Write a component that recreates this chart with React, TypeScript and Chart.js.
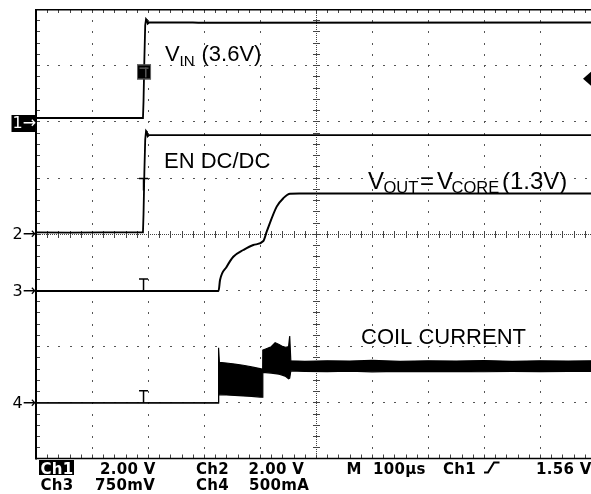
import React, { useEffect, useRef } from "react";
import { Chart, registerables } from "chart.js";

Chart.register(...registerables);

// ---------- scope settings ----------
const TIME_PER_DIV = 100; // µs / div
const X_MAX = 991; // visible part of the 10-div screen (right edge cropped)
const Y_DIVS = 4;

const CH1_SCALE = 2.0; // V/div
const CH2_SCALE = 2.0; // V/div
const CH3_SCALE = 0.75; // V/div
const CH4_SCALE = 0.5; // A/div
const CH1_OFFSET = 2.06; // divisions from centre
const CH2_OFFSET = 0.0;
const CH3_OFFSET = -1.02;
const CH4_OFFSET = -3.01;

const TRIGGER_TIME = 192; // µs from left edge

// ---------- data (time in µs from left graticule edge) ----------
const ch1Time = [0, 191, 192, 193.5, 195, 196.5, 198, 199.5, 202, 280, 290, 991];
const ch1Volts = [0, 0, 0.6, 2.1, 3.3, 3.52, 3.48, 3.36, 3.4, 3.4, 3.39, 3.4];

const ch2Time = [0, 60, 120, 191, 192, 193.5, 195, 196.5, 198, 199.5, 202, 991];
const ch2Volts = [0.05, 0.04, 0.05, 0.05, 0.7, 2.2, 3.35, 3.66, 3.62, 3.47, 3.51, 3.51];

const ch3Time = [0, 326, 328.6, 340.5, 352.3, 370.2, 388, 405.9, 411.9, 429.8, 441.6, 453.6, 470, 991];
const ch3Volts = [0, 0, 0.147, 0.325, 0.458, 0.548, 0.615, 0.668, 0.792, 1.127, 1.24, 1.3, 1.302, 1.302];

const ch4Time = [0, 325.5, 326, 327.5, 340, 355, 370, 385, 400, 404, 405, 410, 420, 427, 434, 441, 446, 451, 453, 455, 480, 520, 560, 600, 650, 700, 750, 800, 850, 900, 950, 991];
const ch4Top = [0, 0, 0.49, 0.36, 0.355, 0.345, 0.335, 0.32, 0.305, 0.3, 0.47, 0.48, 0.5, 0.535, 0.52, 0.5, 0.495, 0.5, 0.595, 0.375, 0.37, 0.375, 0.372, 0.378, 0.37, 0.375, 0.372, 0.376, 0.37, 0.374, 0.372, 0.375];
const ch4Bottom = [0, 0, 0.075, 0.072, 0.07, 0.066, 0.062, 0.058, 0.052, 0.05, 0.27, 0.27, 0.265, 0.26, 0.255, 0.245, 0.235, 0.215, 0.22, 0.285, 0.28, 0.278, 0.282, 0.276, 0.28, 0.278, 0.281, 0.277, 0.28, 0.278, 0.281, 0.279];

// ---------- texts ----------
const CHANNEL_MARKERS = ["1", "2", "3", "4"];
const STATUS_LINE_1 = ["Ch1", "2.00 V", "Ch2", "2.00 V", "M", "100µs", "Ch1", "1.56 V"];
const STATUS_LINE_2 = ["Ch3", "750mV", "Ch4", "500mA"];

const toDiv = (times: number[], vals: number[], scale: number, offset: number) =>
  times.map((t, i) => ({ x: t, y: offset + vals[i] / scale }));

const graticule = {
  id: "graticule",
  beforeDatasetsDraw(chart: any) {
    const { ctx, chartArea: a, scales } = chart;
    const xs = scales.x;
    const ys = scales.y;
    const xDiv = xs.getPixelForValue(TIME_PER_DIV) - xs.getPixelForValue(0);
    const yDiv = ys.getPixelForValue(0) - ys.getPixelForValue(1);
    const mx = xDiv / 5;
    const my = yDiv / 5;
    const cx = Math.round(xs.getPixelForValue(5 * TIME_PER_DIV));
    const cy = Math.round(ys.getPixelForValue(0));
    ctx.save();
    ctx.fillStyle = "#555";
    for (let k = 1; k < 10; k++) {
      if (k === 5) continue;
      const px = Math.round(xs.getPixelForValue(k * TIME_PER_DIV));
      if (px > a.right) continue;
      for (let j = 1; j < 40; j++) {
        const py = Math.round(a.top + j * my);
        ctx.fillRect(px, py, 1, 2);
      }
    }
    for (let k = -Y_DIVS + 1; k < Y_DIVS; k++) {
      if (k === 0) continue;
      const py = Math.round(ys.getPixelForValue(k));
      for (let j = 1; j < 60; j++) {
        const px = Math.round(a.left + j * mx);
        if (px > a.right) break;
        ctx.fillRect(px, py, 2, 1);
      }
    }
    ctx.fillStyle = "#444";
    for (let px = Math.round(a.left); px < a.right; px += 2) ctx.fillRect(px, cy, 1, 1);
    for (let py = Math.round(a.top); py < a.bottom; py += 2) ctx.fillRect(cx, py, 1, 1);
    for (let j = 1; j < 60; j++) {
      const px = Math.round(a.left + j * mx);
      if (px > a.right) break;
      ctx.fillRect(px, cy - 3, 1, 7);
      ctx.fillRect(px, a.top, 1, 4);
      ctx.fillRect(px, a.bottom - 4, 1, 4);
    }
    for (let j = 1; j < 40; j++) {
      const py = Math.round(a.top + j * my);
      ctx.fillRect(cx - 3, py, 7, 1);
      ctx.fillRect(a.left, py, 4, 1);
    }
    ctx.strokeStyle = "#000";
    ctx.lineWidth = 1.5;
    ctx.beginPath();
    ctx.moveTo(a.right + 2, a.top + 0.75);
    ctx.lineTo(a.left + 1, a.top + 0.75);
    ctx.moveTo(a.right + 2, a.bottom);
    ctx.lineTo(a.left, a.bottom);
    ctx.stroke();
    ctx.lineWidth = 2;
    ctx.beginPath();
    ctx.moveTo(a.left, a.top);
    ctx.lineTo(a.left, a.bottom + 1);
    ctx.stroke();
    ctx.restore();
  },
  afterDatasetsDraw(chart: any) {
    const { ctx, chartArea: a, scales } = chart;
    const xs = scales.x;
    const ys = scales.y;
    ctx.save();
    const tx = xs.getPixelForValue(TRIGGER_TIME);
    // ch1 trigger box
    const by = ys.getPixelForValue(2.88);
    ctx.fillStyle = "#000";
    ctx.fillRect(tx - 6.5, by - 7.5, 14, 15);
    ctx.strokeStyle = "#666";
    ctx.lineWidth = 1;
    ctx.strokeRect(tx - 6, by - 7, 13, 14);
    ctx.fillStyle = "#555";
    ctx.fillRect(tx - 4, by - 4.5, 9, 1.5);
    ctx.fillRect(tx + 1.5, by - 4.5, 1.5, 10);
    // T markers on ch2..ch4
    ctx.strokeStyle = "#000";
    ctx.lineWidth = 1.5;
    const tBases = [0.77, CH3_OFFSET, CH4_OFFSET];
    tBases.forEach((d) => {
      const yb = ys.getPixelForValue(d);
      ctx.beginPath();
      ctx.moveTo(tx, yb);
      ctx.lineTo(tx, yb - 12);
      ctx.moveTo(tx - 4.5, yb - 12);
      ctx.lineTo(tx + 4.5, yb - 12);
      ctx.stroke();
    });
    // trigger level marker at right edge
    const ty = ys.getPixelForValue(2.76);
    ctx.fillStyle = "#000";
    ctx.beginPath();
    ctx.moveTo(a.right - 8, ty);
    ctx.lineTo(a.right, ty - 7);
    ctx.lineTo(a.right + 8, ty);
    ctx.lineTo(a.right, ty + 7);
    ctx.closePath();
    ctx.fill();

    // annotations
    ctx.fillStyle = "#000";
    ctx.textBaseline = "alphabetic";
    const ann: [string, number, number, number][] = [
      ["V", 165, 61, 22],
      ["IN", 179.5, 65.5, 15],
      ["(3.6V)", 201.5, 61, 22],
      ["EN DC/DC", 164, 168, 22],
      ["V", 368, 188.5, 24],
      ["OUT", 383.5, 193, 16.5],
      ["=", 420, 188.5, 24],
      ["V", 437, 188.5, 24],
      ["CORE", 451.5, 193, 16.5],
      ["(1.3V)", 502, 188.5, 24],
      ["COIL CURRENT", 361, 344, 22],
    ];
    ann.forEach(([t, x, y, s]) => {
      ctx.font = `${s}px "Liberation Sans", Arial, sans-serif`;
      ctx.fillText(t, x, y);
    });

    // channel ground markers
    ctx.font = `16px "DejaVu Sans", sans-serif`;
    const offs = [CH1_OFFSET, CH2_OFFSET, CH3_OFFSET, CH4_OFFSET];
    CHANNEL_MARKERS.forEach((m, i) => {
      const y = ys.getPixelForValue(offs[i]);
      if (i === 0) {
        ctx.fillStyle = "#000";
        ctx.fillRect(11.5, y - 3, 24, 17);
        ctx.fillStyle = "#fff";
      } else ctx.fillStyle = "#000";
      ctx.textBaseline = "middle";
      ctx.fillText(m + "→", 12.5, y + (i === 0 ? 5.5 : 1));
    });

    // status bar
    ctx.textBaseline = "alphabetic";
    ctx.font = `bold 15px "DejaVu Sans", sans-serif`;
    (ctx as any).letterSpacing = "0.3px";
    const l1x = [40.5, 100, 196, 248.5, 346.5, 373, 443, 536];
    STATUS_LINE_1.forEach((t, i) => {
      if (i === 0) {
        ctx.fillStyle = "#000";
        ctx.fillRect(39, 460, 35, 15);
        ctx.fillStyle = "#fff";
      } else ctx.fillStyle = "#000";
      ctx.fillText(t, l1x[i], 473.5);
    });
    const l2x = [40.5, 95, 196, 249];
    ctx.fillStyle = "#000";
    STATUS_LINE_2.forEach((t, i) => ctx.fillText(t, l2x[i], 489.5));
    // rising-edge slope symbol
    ctx.strokeStyle = "#000";
    ctx.lineWidth = 2;
    ctx.beginPath();
    ctx.moveTo(484, 472.5);
    ctx.lineTo(488, 472.5);
    ctx.lineTo(494, 462.5);
    ctx.lineTo(499.5, 462.5);
    ctx.stroke();
    ctx.restore();
  },
};

export default function App() {
  const ref = useRef<HTMLCanvasElement | null>(null);
  useEffect(() => {
    if (!ref.current) return;
    const line = (data: any[], extra: any = {}) => ({
      data,
      borderColor: "#000",
      backgroundColor: "#000",
      borderWidth: 1.8,
      pointRadius: 0,
      fill: false,
      tension: 0,
      ...extra,
    });
    const chart = new Chart(ref.current, {
      type: "line",
      data: {
        datasets: [
          line(toDiv(ch1Time, ch1Volts, CH1_SCALE, CH1_OFFSET)),
          line(toDiv(ch2Time, ch2Volts, CH2_SCALE, CH2_OFFSET)),
          line(toDiv(ch3Time, ch3Volts, CH3_SCALE, CH3_OFFSET), { cubicInterpolationMode: "monotone", borderWidth: 2 }),
          line(toDiv(ch4Time, ch4Top, CH4_SCALE, CH4_OFFSET), { borderWidth: 1.2 }),
          line(toDiv(ch4Time, ch4Bottom, CH4_SCALE, CH4_OFFSET), { borderWidth: 1.2, fill: "-1", backgroundColor: "#000" }),
        ],
      },
      options: {
        animation: false,
        responsive: false,
        devicePixelRatio: 1,
        layout: { padding: { left: 36, top: 9, right: 0, bottom: 35.5 } },
        plugins: { legend: { display: false }, tooltip: { enabled: false } },
        scales: {
          x: { type: "linear", min: 0, max: X_MAX, display: false },
          y: { type: "linear", min: -Y_DIVS, max: Y_DIVS, display: false },
        },
      },
      plugins: [graticule],
    });
    return () => chart.destroy();
  }, []);
  return (
    <div style={{ position: "fixed", left: 0, top: 0, width: 591, height: 494, background: "#fff", overflow: "hidden" }}>
      <canvas ref={ref} width={591} height={494} style={{ display: "block" }} />
    </div>
  );
}
